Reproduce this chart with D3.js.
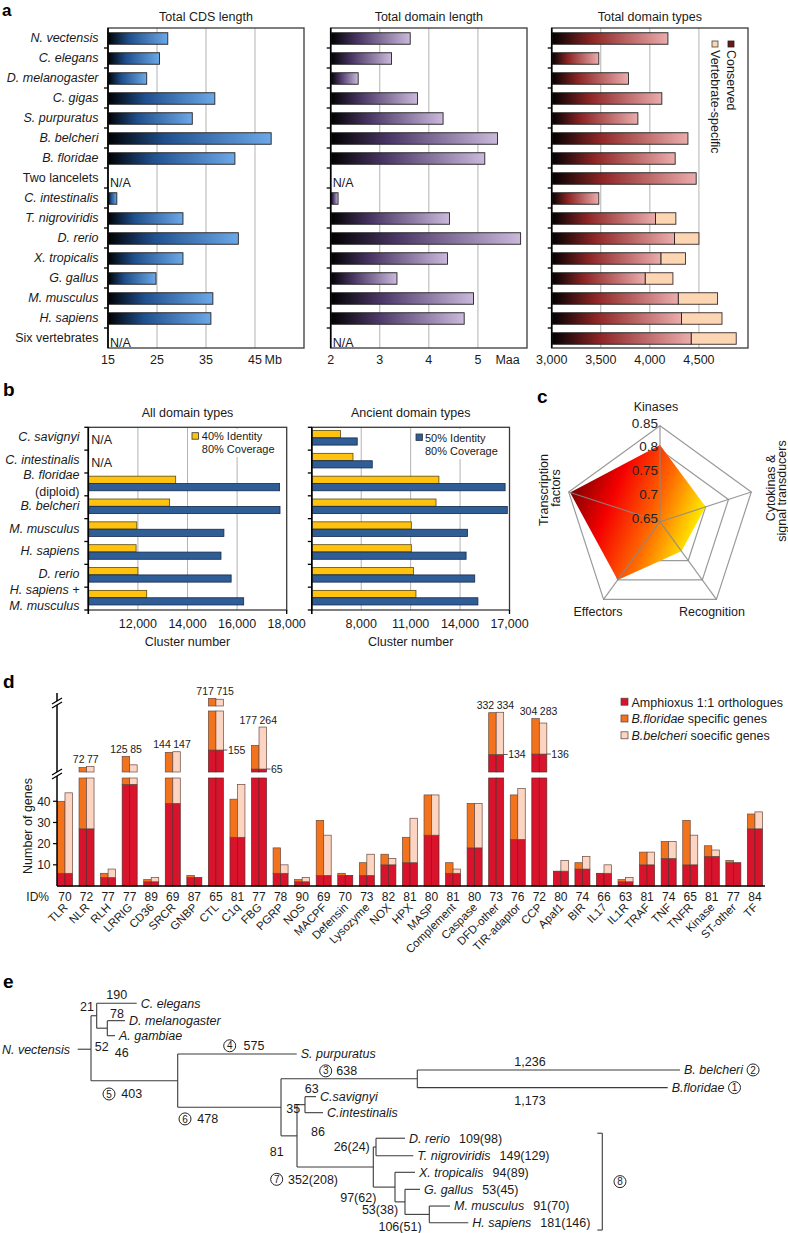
<!DOCTYPE html>
<html><head><meta charset="utf-8">
<script src="https://cdn.jsdelivr.net/npm/d3@7"></script>
<style>
body{margin:0;background:#fff;}
svg{display:block;font-family:"Liberation Sans",Arial,Helvetica,sans-serif;}
</style></head><body>
<svg id="fig" width="788" height="1233"></svg>
<script>
// ================= DATA =================
// Panel a
const speciesA = ["N. vectensis","C. elegans","D. melanogaster","C. gigas","S. purpuratus","B. belcheri","B. floridae","Two lancelets","C. intestinalis","T. nigroviridis","D. rerio","X. tropicalis","G. gallus","M. musculus","H. sapiens","Six vertebrates"];
const italicA = [1,1,1,1,1,1,1,0,1,1,1,1,1,1,1,0];
const cdsLengthMb = [27.2,25.5,22.9,36.8,32.2,48.3,40.9,null,16.8,30.3,41.6,30.3,24.8,36.4,36.0,null];
const domainLengthMaa = [3.62,3.24,2.56,3.77,4.29,5.40,5.14,null,2.15,4.42,5.87,4.38,3.35,4.91,4.72,null];
const domainTypesConserved = [4184,3480,3782,4122,3878,4388,4258,4472,3480,4057,4251,4112,3952,4289,4322,4421];
const domainTypesTotal = [4184,3480,3782,4122,3878,4388,4258,4472,3480,4265,4500,4363,4235,4690,4735,4880];
const ticksCDS = [15,25,35,45];
const ticksDomLen = [2,3,4,5];
const ticksDomTypes = [3000,3500,4000,4500];

// Panel b
const speciesB = [["C. savignyi"],["C. intestinalis"],["B. floridae","(diploid)"],["B. belcheri"],["M. musculus"],["H. sapiens"],["D. rerio"],["H. sapiens +","M. musculus"]];
const allId40 = [null,null,13524,13280,11955,11927,12000,12355];
const allId50 = [null,null,17714,17730,15468,15350,15760,16266];
const ancId40 = [6740,7500,12715,12540,11040,11040,11170,11322];
const ancId50 = [7757,8670,16733,16866,14450,14365,14890,15083];
const ticksAll = [12000,14000,16000,18000];
const ticksAnc = [8000,11000,14000,17000];

// Panel c
const radarAxes = ["Kinases","Cytokinas & signal transducers","Recognition","Effectors","Transcription factors"];
const radarValues = [0.81,0.75,0.726,0.80,0.847];
const radarTicks = [0.65,0.7,0.75,0.8,0.85];

// Panel d
const immCats = ["TLR","NLR","RLH","LRRIG","CD36","SRCR","GNBP","CTL","C1q","FBG","PGRP","NOS","MACPF","Defensin","Lysozyme","NOX","HPX","MASP","Complement","Caspase","DFD-other","TIR-adaptor","CCP","Apaf1","BIR","IL17","IL1R","TRAF","TNF","TNFR","Kinase","ST-other","TF"];
const idPct =    [70,72,77,77,89,69,87,65,81,77,78,90,69,70,73,82,81,80,81,80,73,76,72,80,74,66,63,81,74,65,81,77,84];
const ortho =    [6,27,4,48,2,39,4,155,23,65,6,2,5,5,5,10,11,24,6,18,134,22,136,7,8,6,2,10,13,10,14,11,27];
const floTotal = [40,72,6,125,3,144,5,717,41,177,18,3,31,6,11,15,23,43,11,39,332,43,304,7,11,6,3,16,21,31,19,12,34];
const belTotal = [44,77,8,85,4,147,4,715,48,264,10,4,24,5,15,13,32,43,8,39,334,46,283,12,14,10,4,16,21,24,17,11,35];
const yTicksD = [10,20,30,40];

// Panel e (depth = horizontal position in tree units, row = leaf order)
const treeData = {id:"root", depth:0, children:[
  {id:"prot", depth:5.7, children:[
    {id:"C. elegans", depth:45.7, row:0},
    {id:"dipt", depth:16.3, children:[
      {id:"D. melanogaster", depth:34, row:1.04},
      {id:"A. gambiae", depth:24, row:1.94}]}]},
  {id:"deut", depth:86.7, children:[
    {id:"S. purpuratus", depth:205.7, row:3.04},
    {id:"chord", depth:190, children:[
      {id:"amph", depth:326.3, children:[
        {id:"B. belcheri", depth:589, row:3.99},
        {id:"B.floridae", depth:576.7, row:5.05}]},
      {id:"olf", depth:206, children:[
        {id:"tunic", depth:214, children:[
          {id:"C.savignyi", depth:225, row:5.59},
          {id:"C.intestinalis", depth:232, row:6.55}]},
        {id:"vert", depth:282.3, children:[
          {id:"fish", depth:285, children:[
            {id:"D. rerio", depth:314, row:8.08},
            {id:"T. nigroviridis", depth:322.3, row:9.13}]},
          {id:"tetra", depth:304, children:[
            {id:"X. tropicalis", depth:324, row:10.12},
            {id:"amn", depth:314, children:[
              {id:"G. gallus", depth:329, row:11.14},
              {id:"mam", depth:338.3, children:[
                {id:"M. musculus", depth:359, row:12.14},
                {id:"H. sapiens", depth:377.3, row:13.14}]}]}]}]}]}]}]}]};
const outgroup = "N. vectensis";
const leafCounts = {"D. rerio":"109(98)","T. nigroviridis":"149(129)","X. tropicalis":"94(89)","G. gallus":"53(45)","M. musculus":"91(70)","H. sapiens":"181(146)"};
const leafCircles = {"B. belcheri":2,"B.floridae":1};
const branchLabels = [
  {node:"prot",text:"21"},{node:"C. elegans",text:"190"},{node:"D. melanogaster",text:"78"},
  {node:"root",text:"52"},{node:"root",text:"46"},
  {node:"deut",text:"403",circ:5},{node:"S. purpuratus",text:"575",circ:4},
  {node:"chord",text:"478",circ:6},{node:"amph",text:"638",circ:3},
  {node:"B. belcheri",text:"1,236"},{node:"B.floridae",text:"1,173"},
  {node:"tunic",text:"35"},{node:"C.savignyi",text:"63"},{node:"C.intestinalis",text:"86"},
  {node:"olf",text:"81"},{node:"vert",text:"352(208)",circ:7},
  {node:"fish",text:"26(24)"},{node:"tetra",text:"97(62)"},{node:"amn",text:"53(38)"},{node:"mam",text:"106(51)"}
];
const cladeBracketLabel = 8;

// ================= DRAWING =================
const svg = d3.select("#fig");
svg.append("rect").attr("width",788).attr("height",1233).attr("fill","#fff");
const defs = svg.append("defs");
const TXT = "#1a1a1a";
function grad(id, stops, x1=0,y1=0,x2=1,y2=0){
  const g = defs.append("linearGradient").attr("id",id).attr("x1",x1).attr("y1",y1).attr("x2",x2).attr("y2",y2);
  stops.forEach(([o,c])=>g.append("stop").attr("offset",o).attr("stop-color",c));
}
grad("gBlue",[[0,"#000"],[0.35,"#1f4f8d"],[1,"#6ca8e8"]]);
grad("gPurple",[[0,"#000"],[0.35,"#4b3766"],[1,"#cbb9dc"]]);
grad("gRed",[[0,"#000"],[0.35,"#8f2626"],[1,"#ebacac"]]);
grad("gRadar",[[0,"#7a0000"],[0.3,"#f50000"],[0.62,"#ff6a00"],[0.92,"#ffee00"]],0,0.3,1,0.7);

function txt(g,x,y,s,o={}){
  const t=g.append("text").attr("x",x).attr("y",y).text(s)
    .attr("font-size",o.size||12).attr("text-anchor",o.anchor||"start").attr("fill",o.fill||TXT);
  if(o.italic) t.attr("font-style","italic");
  if(o.bold) t.attr("font-weight","bold");
  if(o.transform) t.attr("transform",o.transform);
  return t;
}
// panel letters
[["a",2,15.5,17],["b",3,396,19],["c",537,403,19],["d",3,688,19],["e",3,988,19]].forEach(([l,x,y,s])=>txt(svg,x,y,l,{size:s,bold:true,fill:"#000"}));

// ---------- Panel a ----------
const aTop=28, aBot=348;
const yA = d3.scaleBand().domain(d3.range(speciesA.length)).range([aTop,aBot]);
const gA = svg.append("g");
speciesA.forEach((s,i)=>txt(gA,98.5,yA(i)+yA.bandwidth()/2+4.2,s,{anchor:"end",size:12.5,italic:italicA[i]}));
const aPanels = [
  {x0:108,x1:304,dom:[15,55],ticks:ticksCDS,vals:cdsLengthMb,fill:"url(#gBlue)",title:"Total CDS length",unit:"Mb",unitDx:9.5,fmt:d=>d},
  {x0:330.7,x1:527,dom:[2,6],ticks:ticksDomLen,vals:domainLengthMaa,fill:"url(#gPurple)",title:"Total domain length",unit:"Maa",unitDx:17.5,fmt:d=>d},
  {x0:551.7,x1:748,dom:[3000,5000],ticks:ticksDomTypes,vals:domainTypesConserved,vals2:domainTypesTotal,fill:"url(#gRed)",title:"Total domain types",fmt:d3.format(",")}
];
aPanels.forEach(p=>{
  const x=d3.scaleLinear().domain(p.dom).range([p.x0,p.x1]);
  const g=gA.append("g");
  g.selectAll("line.grid").data(p.ticks.slice(1)).join("line").attr("class","grid")
    .attr("x1",x).attr("x2",x).attr("y1",aTop).attr("y2",aBot).attr("stroke","#b3b3b3").attr("stroke-width",1);
  const bh=11.5;
  if(p.vals2){
    p.vals2.forEach((v,i)=>{ if(v>p.vals[i]) g.append("rect").attr("x",x(p.vals[i])).attr("y",yA(i)+(20-bh)/2+0.5)
      .attr("width",x(v)-x(p.vals[i])).attr("height",bh).attr("fill","#fcd5b2").attr("stroke","#3a2a2a").attr("stroke-width",0.9);});
  }
  p.vals.forEach((v,i)=>{
    if(v==null){ txt(g,p.x0+2,yA(i)+yA.bandwidth()/2+9,"N/A",{size:12.5}); return; }
    g.append("rect").attr("x",x(p.dom[0])).attr("y",yA(i)+(20-bh)/2+0.5).attr("width",x(v)-x(p.dom[0])).attr("height",bh)
      .attr("fill",p.fill).attr("stroke","#222").attr("stroke-width",0.9);
  });
  g.append("rect").attr("x",p.x0).attr("y",aTop).attr("width",p.x1-p.x0).attr("height",aBot-aTop)
    .attr("fill","none").attr("stroke","#3a3a3a").attr("stroke-width",1.3);
  g.append("line").attr("x1",p.x0).attr("x2",p.x0).attr("y1",aTop).attr("y2",aBot).attr("stroke","#000").attr("stroke-width",1.6);
  g.selectAll("line.tk").data(d3.range(1,speciesA.length)).join("line").attr("class","tk")
    .attr("x1",p.x0-4).attr("x2",p.x0).attr("y1",d=>yA(d)).attr("y2",d=>yA(d)).attr("stroke","#000").attr("stroke-width",1.3);
  p.ticks.forEach(t=>txt(g,x(t),363.5,p.fmt(t),{anchor:"middle",size:12.5}));
  if(p.unit) txt(g,x(p.ticks[p.ticks.length-1])+p.unitDx,363.5,p.unit,{size:12.5});
  txt(g,(p.x0+p.x1)/2,20.5,p.title,{anchor:"middle",size:12.5});
});
// legend (rotated)
gA.append("rect").attr("x",728).attr("y",41).attr("width",6).attr("height",6).attr("fill","#6d1717").attr("stroke","#222").attr("stroke-width",0.8);
gA.append("rect").attr("x",712).attr("y",41).attr("width",6).attr("height",6).attr("fill","#fcd5b2").attr("stroke","#444").attr("stroke-width",0.8);
txt(gA,0,0,"Conserved",{size:12.5,transform:"translate(727,50) rotate(90)"});
txt(gA,0,0,"Vertebrate-specific",{size:12.5,transform:"translate(711,50) rotate(90)"});

// ---------- Panel b ----------
const bTop=427.3, bBot=610;
const yB = d3.scaleBand().domain(d3.range(speciesB.length)).range([bTop,bBot]);
const gB = svg.append("g");
speciesB.forEach((lines,i)=>{
  const c=yB(i)+yB.bandwidth()/2;
  if(lines.length===1) txt(gB,79.5,c+2.5,lines[0],{anchor:"end",size:12.5,italic:true});
  else { txt(gB,79.5,c-5,lines[0],{anchor:"end",size:12.5,italic:lines[0][0]!=="("});
         txt(gB,79.5,c+11.5,lines[1],{anchor:"end",size:12.5,italic:lines[1][0]!=="("}); }
});
const bPanels=[
  {x0:88.3,x1:286.7,dom:[10000,18000],ticks:ticksAll,v1:allId40,v2:allId50,title:"All domain types",
   leg:{col:"#ffc20e",rect:[190,429,95,28],sq:[192,432.7],t:[201.8,439.5,201.8,453],lab:"40% Identity"}},
  {x0:311.8,x1:509.5,dom:[5000,17000],ticks:ticksAnc,v1:ancId40,v2:ancId50,title:"Ancient domain types",
   leg:{col:"#2f5d96",rect:[413,429,94,30],sq:[416,434],t:[425,441.5,425,455],lab:"50% Identity"}}
];
bPanels.forEach(p=>{
  const x=d3.scaleLinear().domain(p.dom).range([p.x0,p.x1]);
  const g=gB.append("g");
  g.selectAll("line.grid").data(p.ticks.slice(0,-1)).join("line").attr("class","grid")
    .attr("x1",x).attr("x2",x).attr("y1",bTop).attr("y2",bBot).attr("stroke","#b3b3b3");
  const L=p.leg;
  g.append("rect").attr("x",L.rect[0]).attr("y",L.rect[1]).attr("width",L.rect[2]).attr("height",L.rect[3]).attr("fill","#fff");
  g.append("rect").attr("x",L.sq[0]).attr("y",L.sq[1]).attr("width",6.5).attr("height",6.5).attr("fill",L.col).attr("stroke","#333").attr("stroke-width",0.8);
  txt(g,L.t[0],L.t[1],L.lab,{size:11});
  txt(g,L.t[2],L.t[3],"80% Coverage",{size:11});
  p.v1.forEach((v,i)=>{
    if(v==null){ txt(g,p.x0+3,yB(i)+yB.bandwidth()/2+5,"N/A",{size:12.5}); return; }
    g.append("rect").attr("x",p.x0).attr("y",yB(i)+3.2).attr("width",x(v)-p.x0).attr("height",7.2)
      .attr("fill","#ffc20e").attr("stroke","#5a4a10").attr("stroke-width",0.8);
  });
  p.v2.forEach((v,i)=>{
    if(v==null) return;
    g.append("rect").attr("x",p.x0).attr("y",yB(i)+10.6).attr("width",x(v)-p.x0).attr("height",7.2)
      .attr("fill","#2f5d96").attr("stroke","#16294a").attr("stroke-width",0.8);
  });
  g.append("rect").attr("x",p.x0).attr("y",bTop).attr("width",p.x1-p.x0).attr("height",bBot-bTop)
    .attr("fill","none").attr("stroke","#3a3a3a").attr("stroke-width",1.3);
  g.append("line").attr("x1",p.x0).attr("x2",p.x0).attr("y1",bTop).attr("y2",bBot+4).attr("stroke","#000").attr("stroke-width",1.6);
  g.append("line").attr("x1",p.x1).attr("x2",p.x1).attr("y1",bBot).attr("y2",bBot+4).attr("stroke","#000").attr("stroke-width",1.3);
  g.selectAll("line.tk").data(d3.range(0,speciesB.length+1)).join("line").attr("class","tk")
    .attr("x1",p.x0-4).attr("x2",p.x0).attr("y1",d=>d<speciesB.length?yB(d):bBot).attr("y2",d=>d<speciesB.length?yB(d):bBot)
    .attr("stroke","#000").attr("stroke-width",1.3);
  p.ticks.forEach(t=>txt(g,x(t),627.5,d3.format(",")(t),{anchor:"middle",size:12.5}));
  txt(g,(p.x0+p.x1)/2,646,"Cluster number",{anchor:"middle",size:12.5});
  txt(g,(p.x0+p.x1)/2,416.5,p.title,{anchor:"middle",size:12.5});
});

// ---------- Panel c ----------
const gC = svg.append("g");
const cx=660, cy=521.7, R=96;
const rS = d3.scaleLinear().domain([radarTicks[0],radarTicks[radarTicks.length-1]]).range([0,R]);
const ang = i=>-Math.PI/2+i*2*Math.PI/radarAxes.length;
const pt = (i,v)=>[cx+rS(v)*Math.cos(ang(i)), cy+rS(v)*Math.sin(ang(i))];
const line = d3.line();
radarTicks.slice(1).forEach(t=>{
  gC.append("path").attr("d",line(radarAxes.map((a,i)=>pt(i,t)))+"Z").attr("fill","none").attr("stroke","#9a9a9a").attr("stroke-width",1.2);
});
gC.append("path").attr("d",line(radarValues.map((v,i)=>pt(i,v)))+"Z").attr("fill","url(#gRadar)");
radarAxes.forEach((a,i)=>{
  const p=pt(i,radarTicks[radarTicks.length-1]);
  gC.append("line").attr("x1",cx).attr("y1",cy).attr("x2",p[0]).attr("y2",p[1]).attr("stroke","#8a8a8a").attr("stroke-width",1.2).attr("opacity",0.85);
});
radarTicks.forEach(t=>txt(gC,cx-2,cy-rS(t)+(t===radarTicks[radarTicks.length-1]?2.5:1),String(t),{anchor:"end",size:13.5,fill:"#222"}));
txt(gC,656,411,radarAxes[0],{anchor:"middle",size:12.5});
txt(gC,0,0,"Cytokinas &",{anchor:"middle",size:12.5,transform:"translate(774.5,488) rotate(-90)"});
txt(gC,0,0,"signal transducers",{anchor:"middle",size:12.5,transform:"translate(785.5,491) rotate(-90)"});
txt(gC,712,616,radarAxes[2],{anchor:"middle",size:12.5});
txt(gC,598,616,radarAxes[3],{anchor:"middle",size:12.5});
txt(gC,0,0,"Transcription",{anchor:"middle",size:12.5,transform:"translate(548,490) rotate(-90)"});
txt(gC,0,0,"factors",{anchor:"middle",size:12.5,transform:"translate(559.5,488) rotate(-90)"});

// ---------- Panel d ----------
const gD = svg.append("g");
const xD = d3.scaleBand().domain(immCats).range([54.2,765.7]);
const segs = [
  {dom:[0,51],range:[886,778]},
  {dom:[51,340],range:[772,711]},
  {dom:[700,720],range:[706,697]}
].map(s=>({...s,sc:d3.scaleLinear().domain(s.dom).range(s.range)}));
function yVal(v){ for(const s of segs){ if(v>=s.dom[0]&&v<=s.dom[1]) return s.sc(v);} return segs[2].sc(v); }
function pieces(v0,v1){ const out=[]; segs.forEach(s=>{const a=Math.max(v0,s.dom[0]),b=Math.min(v1,s.dom[1]); if(b>a) out.push([s.sc(a),s.sc(b)]);}); return out; }
const colRed="#d8132b", colOr="#f3731c", colPk="#fbd4c2";
const bw=7.5;
immCats.forEach((c,i)=>{
  const cxD = xD(c)+xD.bandwidth()/2;
  [[floTotal[i],colOr],[belTotal[i],colPk]].forEach(([tot,col],j)=>{
    const x0=cxD-bw+j*bw;
    pieces(0,ortho[i]).forEach(([yb,yt])=>gD.append("rect").attr("x",x0).attr("y",yt).attr("width",bw).attr("height",yb-yt)
      .attr("fill",colRed).attr("stroke","#5a2a2a").attr("stroke-width",0.7));
    if(tot>ortho[i]) pieces(ortho[i],tot).forEach(([yb,yt])=>gD.append("rect").attr("x",x0).attr("y",yt).attr("width",bw).attr("height",yb-yt)
      .attr("fill",col).attr("stroke","#6a4a40").attr("stroke-width",0.7));
  });
  if(Math.max(floTotal[i],belTotal[i])>51){
    const yl=Math.min(yVal(floTotal[i]),yVal(belTotal[i]))-3.5;
    txt(gD,cxD-2,yl,String(floTotal[i]),{anchor:"end",size:10.5});
    txt(gD,cxD+0.5,yl,String(belTotal[i]),{anchor:"start",size:10.5});
  }
  if(ortho[i]>51){
    const yr=yVal(ortho[i]);
    gD.append("line").attr("x1",cxD+bw).attr("x2",cxD+bw+4).attr("y1",yr).attr("y2",yr).attr("stroke","#333").attr("stroke-width",0.8);
    txt(gD,cxD+bw+4.5,yr+4,String(ortho[i]),{size:10.5});
  }
  txt(gD,cxD,901,String(idPct[i]),{anchor:"middle",size:12});
  txt(gD,0,0,c,{anchor:"end",size:11.5,transform:`translate(${cxD+3.5},908) rotate(-45)`});
});
txt(gD,49,901,"ID%",{anchor:"end",size:12});
// axes
const axX=57;
gD.append("line").attr("x1",axX).attr("x2",765).attr("y1",886).attr("y2",886).attr("stroke","#000").attr("stroke-width",1.6);
gD.append("line").attr("x1",axX).attr("x2",axX).attr("y1",886).attr("y2",693).attr("stroke","#000").attr("stroke-width",1.5);
yTicksD.forEach(t=>{
  const y=segs[0].sc(t);
  gD.append("line").attr("x1",axX-4).attr("x2",axX).attr("y1",y).attr("y2",y).attr("stroke","#000").attr("stroke-width",1.2);
  txt(gD,50.5,y+4.3,String(t),{anchor:"end",size:12});
});
[775,704].forEach(y=>{
  gD.append("path").attr("d",`M52,${y+1.5} L62,${y-4.5} L62,${y-0.5} L52,${y+5.5}Z`).attr("transform","translate(0,-1.5)").attr("fill","#fff");
  gD.append("line").attr("x1",52).attr("y1",y).attr("x2",62).attr("y2",y-6).attr("stroke","#000").attr("stroke-width",1.3);
  gD.append("line").attr("x1",52).attr("y1",y+4).attr("x2",62).attr("y2",y-2).attr("stroke","#000").attr("stroke-width",1.3);
});
txt(gD,0,0,"Number of genes",{anchor:"middle",size:12.5,transform:"translate(32,826) rotate(-90)"});
// legend
const legD=[[colRed,["Amphioxus 1:1 orthologues"]],[colOr,["B.floridae"," specific genes"]],[colPk,["B.belcheri"," soecific genes"]]];
legD.forEach(([col,parts],k)=>{
  const y=702+k*16.8;
  gD.append("rect").attr("x",621).attr("y",y-3.8).attr("width",7).attr("height",7).attr("fill",col).attr("stroke","#5a3a3a").attr("stroke-width",0.7);
  const t=gD.append("text").attr("x",631.5).attr("y",y+4.5).attr("font-size",12.5).attr("fill",TXT);
  t.append("tspan").text(parts[0]).attr("font-style",parts.length>1?"italic":"normal");
  if(parts.length>1) t.append("tspan").text(parts[1]);
});

// ---------- Panel e ----------
const gE = svg.append("g");
const root = d3.hierarchy(treeData);
const tx = d3.scaleLinear().domain([0,589]).range([91,680]);
const ty = d3.scaleLinear().domain([0,1]).range([1003.3,1020]);
root.eachAfter(n=>{
  n.px=tx(n.data.depth);
  n.py=n.children?(n.children[0].py+n.children[n.children.length-1].py)/2:ty(n.data.row);
});
const byId={}; root.each(n=>byId[n.data.id]=n);
const ts={stroke:"#3a3a3a",w:1.1};
function seg(x1,y1,x2,y2){ gE.append("line").attr("x1",x1).attr("y1",y1).attr("x2",x2).attr("y2",y2).attr("stroke",ts.stroke).attr("stroke-width",ts.w); }
root.each(n=>{
  if(n.parent) seg(n.parent.px,n.py,n.px,n.py);
  if(n.children) seg(n.px,n.children[0].py,n.px,n.children[n.children.length-1].py);
});
// outgroup
seg(tx(-13.3),root.py+1,root.px,root.py+1);
txt(gE,tx(-21),root.py+5.5,outgroup,{anchor:"end",size:12.5,italic:true});
function circ(x,y,k){
  gE.append("circle").attr("cx",x).attr("cy",y).attr("r",6).attr("fill","none").attr("stroke","#222").attr("stroke-width",1);
  txt(gE,x,y+3.6,String(k),{anchor:"middle",size:10});
}
root.leaves().forEach(n=>{
  const t=txt(gE,n.px+4,n.py+4.3,n.data.id,{size:12.5,italic:true});
  const end=n.px+4+t.node().getComputedTextLength();
  if(leafCounts[n.data.id]) txt(gE,end+9,n.py+4.3,leafCounts[n.data.id],{size:12.5});
  if(leafCircles[n.data.id]) circ(end+10,n.py,leafCircles[n.data.id]);
});
// branch label placement: [reference, dx, dy, circleDx]
const place = {
  "21":["node",-9.7,-9],"190":["start",20,-8.3],"78":["start",9.7,-6.7],
  "52":["node",10.7,-1.5],"46":["node",30.7,4.5],
  "403":["start",40.7,13.3,18],"575":["start",76.3,-8.3,52],"478":["start",30,11.6,7.3],"638":["start",65.7,-7.9,44.7],
  "1,236":["start",112.7,-8.3],"1,173":["start",112.7,13.3],
  "35":["node",-11.7,3.6],"63":["start",6.7,-8.4],"86":["start",13,19],"81":["start",-4.3,15.8],
  "352(208)":["start",16,12.3,-20.3],"26(24)":["start",-21.6,0],"97(62)":["start",-15,10.6],
  "53(38)":["start",-15,8.2],"106(51)":["start",-5,12.3]
};
branchLabels.forEach(b=>{
  const n=byId[b.node]; const p=place[b.text];
  const rx = p[0]==="node"?n.px:n.parent.px, ry=n.py;
  txt(gE,rx+p[1],ry+p[2]+4.3,b.text,{anchor:"middle",size:12.5});
  if(b.circ) circ(rx+p[3],ry+p[2],b.circ);
});
// vertebrate bracket
const bTopY=byId["D. rerio"].py-5, bBotY=byId["H. sapiens"].py+7.3, bx=602.3;
seg(bx-5,bTopY,bx,bTopY); seg(bx,bTopY,bx,bBotY); seg(bx-5,bBotY,bx,bBotY);
circ(620,(bTopY+bBotY)/2,cladeBracketLabel);
</script></body></html>
